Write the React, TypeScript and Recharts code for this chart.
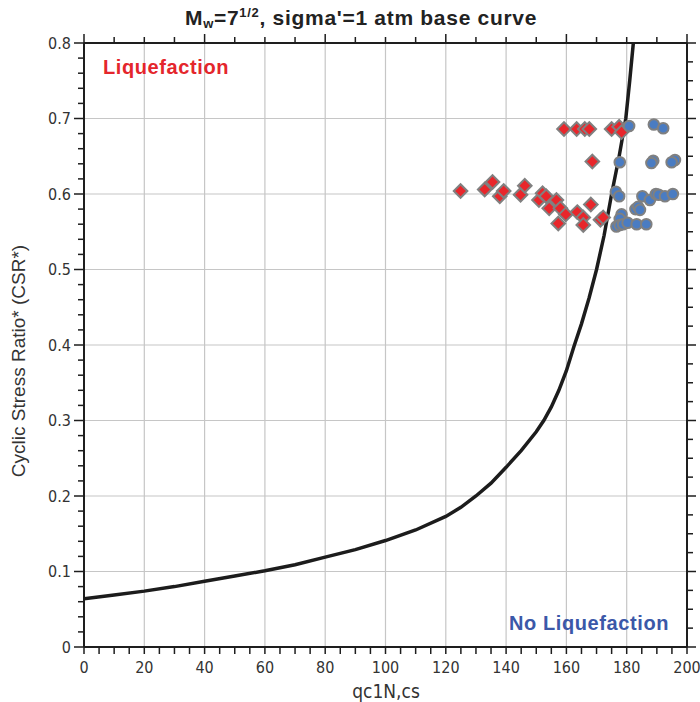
import React from 'react';
import { ScatterChart, Scatter, XAxis, YAxis, ReferenceLine } from 'recharts';

// Base curve (qc1N,cs vs CSR*)
const curveQ = [0, 10, 20, 30, 40, 50, 60, 70, 80, 90, 100, 110, 120, 125, 130, 135, 140, 145, 150, 152.5, 155, 157.5, 160, 162.5, 165, 167.5, 170, 172.5, 175, 177.5, 179.7, 181, 182.2];
const curveCSR = [0.064, 0.069, 0.074, 0.080, 0.087, 0.094, 0.101, 0.109, 0.119, 0.129, 0.141, 0.155, 0.173, 0.185, 0.200, 0.217, 0.238, 0.260, 0.285, 0.300, 0.318, 0.340, 0.366, 0.398, 0.428, 0.462, 0.500, 0.545, 0.600, 0.650, 0.700, 0.750, 0.800];

// Liquefaction cases (red diamonds)
const liqQ = [124.9, 132.9, 135.5, 137.9, 139.2, 144.8, 146.2, 150.9, 152.1, 153.3, 154.3, 156.7, 158.0, 159.8, 157.3, 163.6, 165.6, 165.6, 168.1, 171.3, 172.2, 168.6, 159.2, 163.4, 166.1, 167.6, 175.0, 177.5, 178.3];
const liqCSR = [0.604, 0.606, 0.616, 0.597, 0.604, 0.599, 0.611, 0.592, 0.601, 0.597, 0.581, 0.592, 0.581, 0.573, 0.561, 0.576, 0.569, 0.559, 0.586, 0.566, 0.569, 0.643, 0.686, 0.686, 0.686, 0.686, 0.686, 0.689, 0.682];

// No-liquefaction cases (blue circles)
const noLiqQ = [180.8, 189.0, 192.1, 177.7, 188.8, 188.2, 196.0, 194.9, 176.4, 177.5, 185.2, 187.7, 189.7, 190.6, 192.7, 195.3, 182.9, 183.8, 184.4, 178.3, 177.7, 176.6, 177.7, 178.8, 180.3, 183.3, 186.5];
const noLiqCSR = [0.690, 0.692, 0.687, 0.642, 0.644, 0.641, 0.645, 0.642, 0.603, 0.597, 0.597, 0.592, 0.600, 0.599, 0.597, 0.600, 0.580, 0.583, 0.579, 0.573, 0.567, 0.557, 0.559, 0.560, 0.562, 0.560, 0.560];

// Axis ticks
const xMajorTicks = [0, 20, 40, 60, 80, 100, 120, 140, 160, 180, 200];
const xTickLabels = ['0', '20', '40', '60', '80', '100', '120', '140', '160', '180', '200'];
const yMajorTicks = [0, 0.1, 0.2, 0.3, 0.4, 0.5, 0.6, 0.7, 0.8];
const yTickLabels = ['0', '0.1', '0.2', '0.3', '0.4', '0.5', '0.6', '0.7', '0.8'];
const xMinorTicks = Array.from({ length: 41 }, (_, i) => i * 5);
const yMinorTicks = Array.from({ length: 41 }, (_, i) => Math.round(i * 2) / 100);
const topTicks = Array.from({ length: 21 }, (_, i) => i * 10);
const rightTicks = Array.from({ length: 33 }, (_, i) => Math.round(i * 25) / 1000);

const curveData = curveQ.map((q, i) => ({ q, csr: curveCSR[i] }));
const liqData = liqQ.map((q, i) => ({ q, csr: liqCSR[i] }));
const noLiqData = noLiqQ.map((q, i) => ({ q, csr: noLiqCSR[i] }));

const TICK_FONT = "'Liberation Sans Narrow', 'DejaVu Sans Condensed', 'Liberation Sans', sans-serif";
const AX = '#1e1e1e';

const isIn = (arr: number[], v: number) => arr.some((a) => Math.abs(a - v) < 1e-6);

const BottomTick = (props: any) => {
  const { x, y, payload } = props;
  const v = payload.value;
  const idx = xMajorTicks.findIndex((a) => Math.abs(a - v) < 1e-6);
  return (
    <g>
      <line x1={x} x2={x} y1={y} y2={y + 7} stroke={AX} strokeWidth={1.5} />
      {idx >= 0 && (
        <text x={x} y={y + 26} textAnchor="middle" fontFamily={TICK_FONT} fontSize={16} fill="#333">
          {xTickLabels[idx]}
        </text>
      )}
    </g>
  );
};

const LeftTick = (props: any) => {
  const { x, y, payload } = props;
  const v = payload.value;
  const idx = yMajorTicks.findIndex((a) => Math.abs(a - v) < 1e-6);
  const len = idx >= 0 ? 10 : 6;
  return (
    <g>
      <line x1={x} x2={x - len} y1={y} y2={y} stroke={AX} strokeWidth={1.5} />
      {idx >= 0 && (
        <text x={x - 13} y={y} dy="0.36em" textAnchor="end" fontFamily={TICK_FONT} fontSize={16} fill="#333">
          {yTickLabels[idx]}
        </text>
      )}
    </g>
  );
};

const TopTick = (props: any) => {
  const { x, y, payload } = props;
  const major = Math.abs(payload.value % 40) < 1e-6;
  return <line x1={x} x2={x} y1={y} y2={y - (major ? 9 : 6)} stroke={AX} strokeWidth={1.5} />;
};

const RightTick = (props: any) => {
  const { x, y, payload } = props;
  const major = isIn([0, 0.1, 0.2, 0.3, 0.4, 0.5, 0.6, 0.7, 0.8], payload.value);
  return <line x1={x} x2={x + (major ? 9 : 6)} y1={y} y2={y} stroke={AX} strokeWidth={1.5} />;
};

const Diamond = (props: any) => {
  const { cx, cy } = props;
  const r = 6.8;
  return (
    <path
      d={`M${cx},${cy - r}L${cx + r},${cy}L${cx},${cy + r}L${cx - r},${cy}Z`}
      fill="#e8262b"
      stroke="#808080"
      strokeWidth={2}
    />
  );
};

const Dot = (props: any) => {
  const { cx, cy } = props;
  return <circle cx={cx} cy={cy} r={5.3} fill="#4a7cc2" stroke="#808080" strokeWidth={2} />;
};

const NoShape = () => <g />;

export default function App() {
  return (
    <div style={{ position: 'absolute', left: 0, top: 0, width: 700, height: 702, background: '#fff' }}>
      <ScatterChart width={700} height={702} margin={{ top: 42, right: 12, bottom: 15, left: 24 }}>
        <XAxis
          xAxisId="b"
          type="number"
          dataKey="q"
          domain={[0, 200]}
          ticks={xMinorTicks}
          interval={0}
          allowDataOverflow
          orientation="bottom"
          height={40}
          tickSize={0}
          tickMargin={0}
          tickLine={false}
          tick={<BottomTick />}
          axisLine={{ stroke: AX, strokeWidth: 2 }}
        />
        <XAxis
          xAxisId="t"
          type="number"
          dataKey="q"
          domain={[0, 200]}
          ticks={topTicks}
          interval={0}
          allowDataOverflow
          orientation="top"
          height={1}
          tickSize={0}
          tickMargin={0}
          tickLine={false}
          tick={<TopTick />}
          axisLine={{ stroke: AX, strokeWidth: 2 }}
        />
        <YAxis
          yAxisId="l"
          type="number"
          dataKey="csr"
          domain={[0, 0.8]}
          ticks={yMinorTicks}
          interval={0}
          allowDataOverflow
          orientation="left"
          width={60}
          tickSize={0}
          tickMargin={0}
          tickLine={false}
          tick={<LeftTick />}
          axisLine={{ stroke: AX, strokeWidth: 2 }}
        />
        <YAxis
          yAxisId="r"
          type="number"
          dataKey="csr"
          domain={[0, 0.8]}
          ticks={rightTicks}
          interval={0}
          allowDataOverflow
          orientation="right"
          width={1}
          tickSize={0}
          tickMargin={0}
          tickLine={false}
          tick={<RightTick />}
          axisLine={{ stroke: AX, strokeWidth: 2 }}
        />
        {xMajorTicks.slice(1, -1).map((v) => (
          <ReferenceLine key={'vx' + v} x={v} xAxisId="b" yAxisId="l" stroke="#c6c6c6" strokeWidth={1.2} />
        ))}
        {yMajorTicks.slice(1, -1).map((v) => (
          <ReferenceLine key={'hy' + v} y={v} xAxisId="b" yAxisId="l" stroke="#c6c6c6" strokeWidth={1.2} />
        ))}
        <Scatter
          xAxisId="b"
          yAxisId="l"
          data={curveData}
          line={{ stroke: '#1c1c1c', strokeWidth: 3.5 }}
          lineType="joint"
          shape={<NoShape />}
          isAnimationActive={false}
        />
        <Scatter xAxisId="b" yAxisId="l" data={liqData} shape={<Diamond />} isAnimationActive={false} />
        <Scatter xAxisId="b" yAxisId="l" data={noLiqData} shape={<Dot />} isAnimationActive={false} />
      </ScatterChart>
      <svg
        width={700}
        height={702}
        style={{ position: 'absolute', left: 0, top: 0, pointerEvents: 'none' }}
      >
        <text x={185} y={25} fontFamily="'Liberation Sans', Arial, sans-serif" fontWeight="bold" fontSize={21} letterSpacing={0.7} fill="#222">
          M<tspan fontSize={13} dy={3}>w</tspan>
          <tspan dy={-3}>=7</tspan>
          <tspan fontSize={13} dy={-8}>1/2</tspan>
          <tspan dy={8}>, sigma</tspan>
          <tspan>'=1 atm base curve</tspan>
        </text>
        <text x={103} y={74} fontFamily="'Liberation Sans', Arial, sans-serif" fontWeight="bold" fontSize={20} letterSpacing={0.6} fill="#e4262c">
          Liquefaction
        </text>
        <text x={509} y={629.5} fontFamily="'Liberation Sans', Arial, sans-serif" fontWeight="bold" fontSize={20} letterSpacing={0.6} fill="#3b58a8">
          No Liquefaction
        </text>
        <text
          x={0}
          y={0}
          transform="translate(25,361) rotate(-90)"
          textAnchor="middle"
          fontFamily="'Liberation Sans', Arial, sans-serif"
          fontSize={19}
          fill="#333"
        >
          Cyclic Stress Ratio* (CSR*)
        </text>
        <text x={386} y={698} textAnchor="middle" fontFamily={TICK_FONT} fontSize={19} fill="#333">
          qc1N,cs
        </text>
      </svg>
    </div>
  );
}
